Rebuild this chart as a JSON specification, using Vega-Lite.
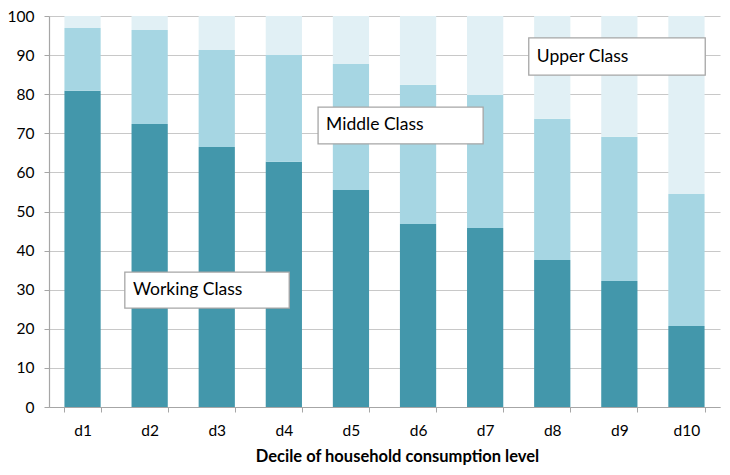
{
  "$schema": "https://vega.github.io/schema/vega-lite/v6.json",
  "width": 671,
  "height": 391,
  "autosize": {"type": "none"},
  "padding": {"left": 49, "top": 16, "right": 10, "bottom": 68},
  "background": "white",
  "config": {
    "view": {"stroke": null},
    "font": "Lato",
    "axis": {"labelFont": "Lato", "titleFont": "Lato", "labelColor": "#000000", "titleColor": "#000000"}
  },
  "datasets": {
    "bars": [
      {"decile": "d1", "cls": "Working Class", "ord": 1, "value": 80.9},
      {"decile": "d1", "cls": "Middle Class", "ord": 2, "value": 16.0},
      {"decile": "d1", "cls": "Upper Class", "ord": 3, "value": 3.1},
      {"decile": "d2", "cls": "Working Class", "ord": 1, "value": 72.4},
      {"decile": "d2", "cls": "Middle Class", "ord": 2, "value": 24.0},
      {"decile": "d2", "cls": "Upper Class", "ord": 3, "value": 3.6},
      {"decile": "d3", "cls": "Working Class", "ord": 1, "value": 66.5},
      {"decile": "d3", "cls": "Middle Class", "ord": 2, "value": 24.8},
      {"decile": "d3", "cls": "Upper Class", "ord": 3, "value": 8.7},
      {"decile": "d4", "cls": "Working Class", "ord": 1, "value": 62.7},
      {"decile": "d4", "cls": "Middle Class", "ord": 2, "value": 27.3},
      {"decile": "d4", "cls": "Upper Class", "ord": 3, "value": 10.0},
      {"decile": "d5", "cls": "Working Class", "ord": 1, "value": 55.5},
      {"decile": "d5", "cls": "Middle Class", "ord": 2, "value": 32.2},
      {"decile": "d5", "cls": "Upper Class", "ord": 3, "value": 12.3},
      {"decile": "d6", "cls": "Working Class", "ord": 1, "value": 46.8},
      {"decile": "d6", "cls": "Middle Class", "ord": 2, "value": 35.6},
      {"decile": "d6", "cls": "Upper Class", "ord": 3, "value": 17.6},
      {"decile": "d7", "cls": "Working Class", "ord": 1, "value": 45.8},
      {"decile": "d7", "cls": "Middle Class", "ord": 2, "value": 34.0},
      {"decile": "d7", "cls": "Upper Class", "ord": 3, "value": 20.2},
      {"decile": "d8", "cls": "Working Class", "ord": 1, "value": 37.6},
      {"decile": "d8", "cls": "Middle Class", "ord": 2, "value": 36.1},
      {"decile": "d8", "cls": "Upper Class", "ord": 3, "value": 26.3},
      {"decile": "d9", "cls": "Working Class", "ord": 1, "value": 32.2},
      {"decile": "d9", "cls": "Middle Class", "ord": 2, "value": 36.9},
      {"decile": "d9", "cls": "Upper Class", "ord": 3, "value": 30.9},
      {"decile": "d10", "cls": "Working Class", "ord": 1, "value": 20.7},
      {"decile": "d10", "cls": "Middle Class", "ord": 2, "value": 33.8},
      {"decile": "d10", "cls": "Upper Class", "ord": 3, "value": 45.5}
    ],
    "labels": [
      {"label": "Working Class", "x1": 1.13, "x2": 3.58, "y1": 25.3, "y2": 34.5, "tx": 1.25, "ty": 29.9},
      {"label": "Middle Class", "x1": 4.01, "x2": 6.47, "y1": 67.3, "y2": 76.7, "tx": 4.13, "ty": 72.0},
      {"label": "Upper Class", "x1": 7.15, "x2": 9.78, "y1": 84.9, "y2": 94.4, "tx": 7.27, "ty": 89.6}
    ]
  },
  "layer": [
    {
      "data": {"name": "bars"},
      "mark": {"type": "bar"},
      "encoding": {
        "x": {
          "field": "decile",
          "type": "nominal",
          "sort": ["d1", "d2", "d3", "d4", "d5", "d6", "d7", "d8", "d9", "d10"],
          "scale": {"paddingInner": 0.46, "paddingOuter": 0.23},
          "axis": {
            "title": "Decile of household consumption level",
            "titleFontSize": 16.5,
            "titleFontWeight": "bold",
            "titlePadding": 10,
            "titleX": 348,
            "labelAngle": 0,
            "labelFontSize": 15.5,
            "labelPadding": 11,
            "domainColor": "#a6a6a6",
            "domainWidth": 1.2,
            "tickColor": "#a6a6a6",
            "tickSize": 5,
            "tickBand": "extent",
            "grid": false
          }
        },
        "y": {
          "field": "value",
          "type": "quantitative",
          "stack": "zero",
          "scale": {"domain": [0, 100], "nice": false},
          "axis": {
            "title": null,
            "values": [0, 10, 20, 30, 40, 50, 60, 70, 80, 90, 100],
            "labelOverlap": false,
            "labelFontSize": 15.5,
            "labelPadding": 10,
            "domainColor": "#a6a6a6",
            "domainWidth": 1.2,
            "tickColor": "#a6a6a6",
            "tickSize": 5,
            "grid": true,
            "gridColor": "#c8c8c8",
            "gridWidth": 1.2
          }
        },
        "color": {
          "field": "cls",
          "type": "nominal",
          "scale": {"domain": ["Working Class", "Middle Class", "Upper Class"], "range": ["#4397ab", "#a6d6e3", "#e1f0f5"]},
          "legend": null
        },
        "order": {"field": "ord", "type": "quantitative"}
      }
    },
    {
      "data": {"name": "labels"},
      "mark": {"type": "rect", "fill": "white", "stroke": "#a6a6a6", "strokeWidth": 1.3},
      "encoding": {
        "x": {"field": "x1", "type": "quantitative", "scale": {"domain": [0, 10], "nice": false}, "axis": null},
        "x2": {"field": "x2"},
        "y": {"field": "y1", "type": "quantitative", "axis": null},
        "y2": {"field": "y2"}
      }
    },
    {
      "data": {"name": "labels"},
      "mark": {"type": "text", "align": "left", "baseline": "middle", "fontSize": 17.5, "font": "Lato", "color": "#000000"},
      "encoding": {
        "x": {"field": "tx", "type": "quantitative", "scale": {"domain": [0, 10], "nice": false}, "axis": null},
        "y": {"field": "ty", "type": "quantitative", "axis": null},
        "text": {"field": "label"}
      }
    }
  ],
  "resolve": {"scale": {"x": "independent"}, "axis": {"y": "independent"}}
}
